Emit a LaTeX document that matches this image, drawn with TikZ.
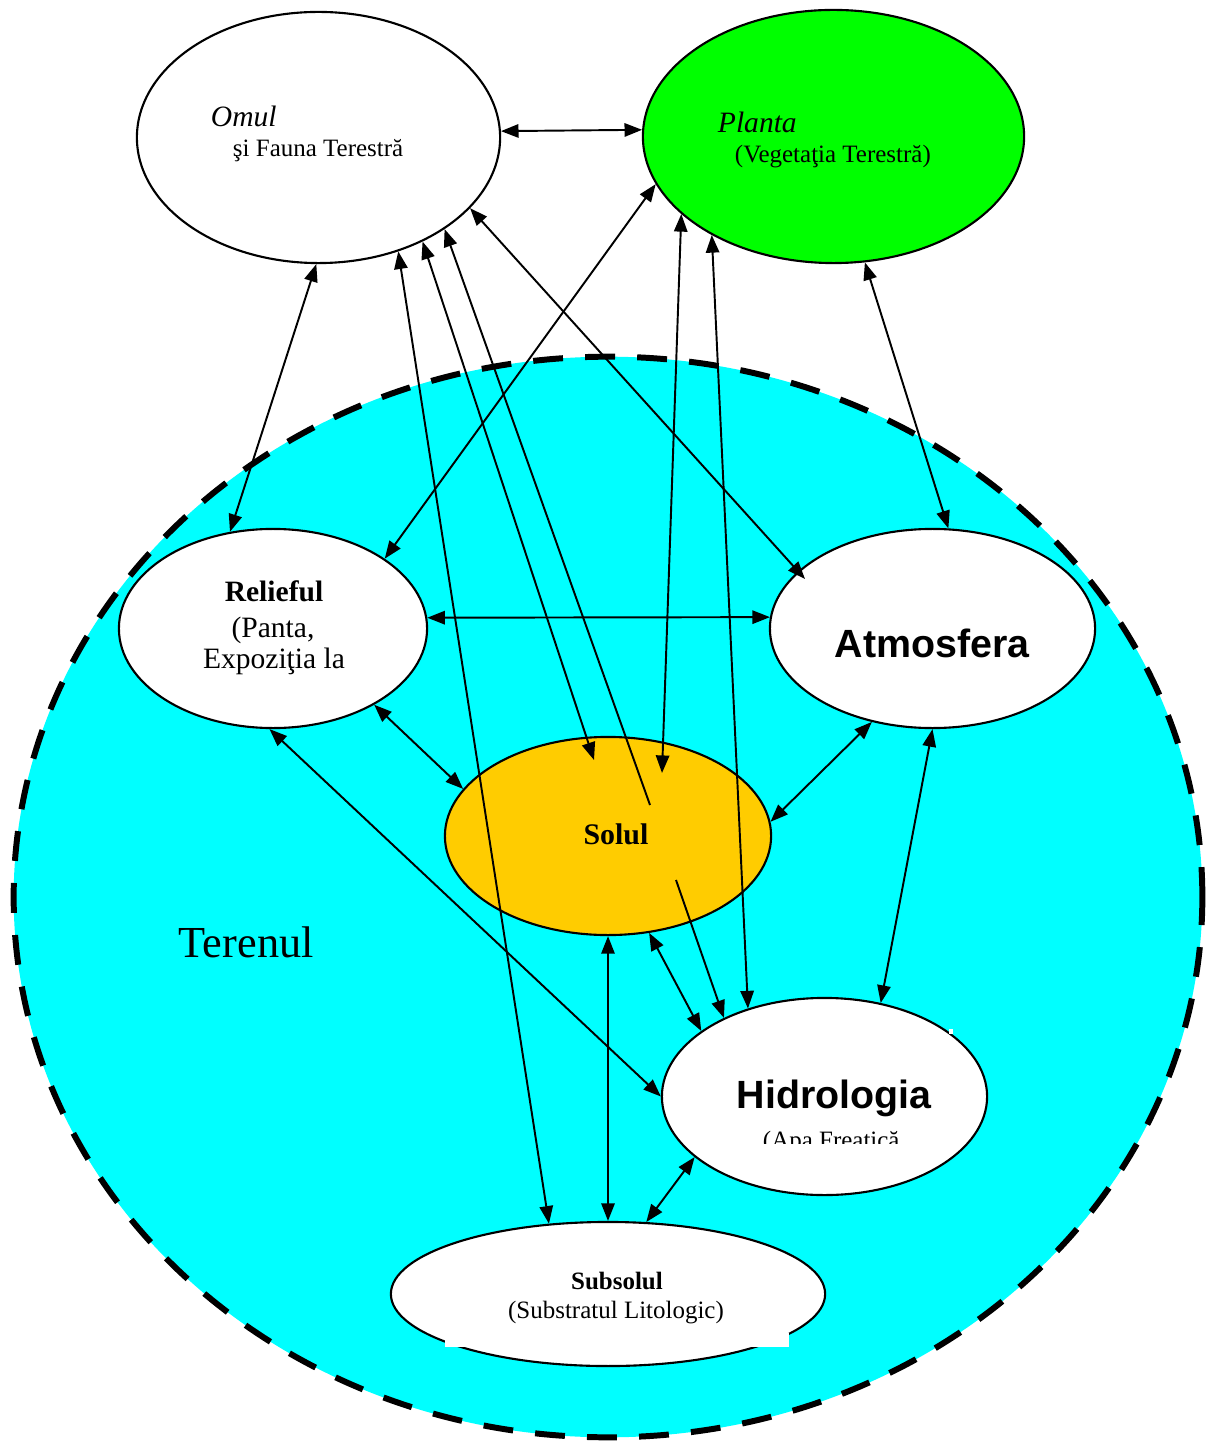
\documentclass[tikz,border=0pt]{standalone}
\usepackage{fontspec}
\setmainfont{Liberation Serif}
\newfontfamily\arialfont{Liberation Sans}
\usepackage{tikz}
\usetikzlibrary{shapes.geometric, arrows.meta}
\definecolor{terenCyan}{RGB}{0,255,255}
\definecolor{plantaGreen}{RGB}{0,255,0}
\definecolor{solulOrange}{RGB}{255,204,0}

\begin{document}
\begin{tikzpicture}[x=0.01cm, y=-0.01cm, line width=0.55pt,
    elli/.style={draw, ellipse, inner sep=0pt, line width=0.6pt},
    dblarr/.style={{Triangle[length=5pt,width=3.8pt]}-{Triangle[length=5pt,width=3.8pt]}},
    arr/.style={-{Triangle[length=5pt,width=3.8pt]}},
    every node/.append style={inner sep=0pt},
    txtIt/.style={font=\fontsize{8.4}{10}\selectfont\itshape},
    txtSm/.style={font=\fontsize{7.1}{9}\selectfont},
    txtMid/.style={font=\fontsize{8.4}{10}\selectfont},
    txtBf/.style={font=\fontsize{8.4}{10}\selectfont\bfseries},
    txtSmBf/.style={font=\fontsize{7.1}{9}\selectfont\bfseries},
    txtSans/.style={font=\fontsize{11.2}{13}\selectfont\arialfont\bfseries}]
      \useasboundingbox (0,0) rectangle (1209,1443);

      % Terenul
      \node[draw, ellipse, fill=terenCyan, line width=1.7pt, dash pattern=on 8.5pt off 6.3pt,
            minimum width=11.88cm, minimum height=10.8cm] (Terenul) at (608,897) {};
      \node[anchor=base west, font=\fontsize{12.6}{15}\selectfont] (TxtTerenul) at (178,957) {Terenul};

      \node[elli, fill=white, minimum width=3.63cm, minimum height=2.51cm] (Omul) at (318.5,137.5) {};
      \node[elli, fill=plantaGreen, minimum width=3.81cm, minimum height=2.53cm] (Planta) at (833.5,136.5) {};
        \node[elli, fill=white, minimum width=3.08cm, minimum height=1.99cm] (Relieful) at (273,628.5) {};
        \node[elli, fill=white, minimum width=3.25cm, minimum height=1.99cm] (Atmosfera) at (932.5,628.5) {};
        \node[elli, fill=solulOrange, minimum width=3.26cm, minimum height=1.98cm] (Solul) at (608,836) {};
        \node[elli, fill=white, minimum width=3.25cm, minimum height=1.97cm] (Hidrologia) at (824.5,1096.5) {};
        \node[elli, fill=white, minimum width=4.34cm, minimum height=1.44cm] (Subsolul) at (608,1294) {};
      \fill[white] (445,1333) rectangle (789,1347);
      \fill[white] (949,1029) rectangle (953,1034);

      % texts
      \node[anchor=base west, txtIt] (TxtOmul) at (210,127) {Omul};
      \node[anchor=base west, txtSm] (TxtOmul2) at (232,157) {şi Fauna Terestră};
      \node[anchor=base west, txtIt] (TxtPlanta) at (717,133) {Planta};
      \node[anchor=base west, txtSm] (TxtPlanta2) at (734,163) {(Vegetaţia Terestră)};
        \node[anchor=base, txtBf] (TxtRelieful) at (274,601) {Relieful};
        \node[anchor=base, txtMid] (TxtRelieful2) at (273,637) {(Panta,};
        \node[anchor=base, txtMid] (TxtRelieful3) at (274,668) {Expoziţia la};
        \node[anchor=base, txtSans] (TxtAtmosfera) at (932,657) {Atmosfera};
        \node[anchor=base, font=\fontsize{8.5}{10}\selectfont\bfseries] (TxtSolul) at (616,844) {Solul};
        \node[anchor=base, txtSans] (TxtHidrologia) at (834,1108) {Hidrologia};
      \begin{scope}
        \clip (700,1100) rectangle (960,1143);
        \node[anchor=base west, txtSm] (TxtHidrologia2) at (762,1148) {(Apa Freatică};
      \end{scope}
        \node[anchor=base, txtSmBf] (TxtSubsolul) at (617,1289) {Subsolul};
        \node[anchor=base, txtSm] (TxtSubsolul2) at (616,1318) {(Substratul Litologic)};

      \coordinate (SolulIn) at (650,805);
      \coordinate (SolulOut) at (676,880);
      \coordinate (SolulTopA) at (594,760);
      \coordinate (SolulTopB) at (662,773);
      \coordinate (AtmosferaIn) at (805,579);

      \foreach \from/\to in {Omul.2/Planta.178, Omul.-91/Relieful.114, Planta.-165/Relieful.32,
            Omul.-25/AtmosferaIn, Omul.-55/Subsolul.130, Omul.-45/SolulTopA,
            Planta.-153.5/SolulTopB, Planta.-141/Hidrologia.131, Planta.-76.5/Atmosfera.81,
            Relieful.4/Atmosfera.176, Relieful.-37/Solul.162, Relieful.-92/Hidrologia.180,
            Atmosfera.-123/Solul.5, Atmosfera.-90/Hidrologia.59, Solul.-67/Hidrologia.152,
            Solul.-90/Subsolul.90, Hidrologia.-155/Subsolul.62}
        \draw[dblarr] (\from) -- (\to);
      \draw[arr] (SolulIn) -- (Omul.-36);
      \draw[arr] (SolulOut) -- (Hidrologia.142);
    \end{tikzpicture}
\end{document}
